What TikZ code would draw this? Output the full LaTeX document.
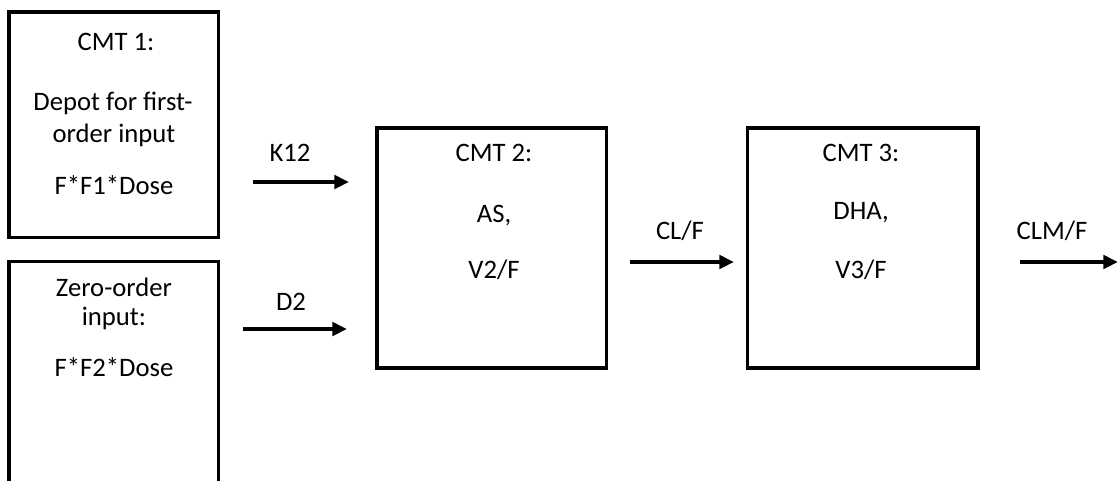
\documentclass[tikz,border=0pt]{standalone}
\usepackage{fontspec}
\setmainfont{Carlito}
\usetikzlibrary{arrows.meta}
\begin{document}
\begin{tikzpicture}[x=0.75pt,y=-0.75pt,
  cmt/.style={draw=black,line width=2.5pt,inner sep=0pt},
  lbl/.style={font=\fontsize{20}{24}\selectfont,inner sep=0pt,anchor=center},
  flow/.style={line width=2.8pt,-{Triangle[length=11pt,width=10pt]}}]
\useasboundingbox (0,0) rectangle (1117,480);
\clip (0,0) rectangle (1117,480);
% boxes
\node[cmt,minimum width=157pt,minimum height=169pt] (c1) at (113.5,124.5) {};
\node[cmt,minimum width=157pt,minimum height=200pt] (c0) at (113.5,395) {};
\node[cmt,minimum width=172pt,minimum height=180pt] (c2) at (491.5,248) {};
\node[cmt,minimum width=173pt,minimum height=180pt] (c3) at (862.5,248) {};
% texts
\node[lbl] (t11) at (116,42) {CMT 1:};
\node[lbl] (t12) at (113,103) {Depot for first-};
\node[lbl] (t13) at (114,135) {order input};
\node[lbl] (t14) at (114,185) {F*F1*Dose};
\node[lbl] (t01) at (114,287) {Zero-order};
\node[lbl] (t02) at (114,318) {input:};
\node[lbl] (t03) at (114,367) {F*F2*Dose};
\node[lbl] (t21) at (494,153) {CMT 2:};
\node[lbl] (t22) at (494,216) {AS,};
\node[lbl] (t23) at (494,270) {V2/F};
\node[lbl] (t31) at (861,153) {CMT 3:};
\node[lbl] (t32) at (861,213) {DHA,};
\node[lbl] (t33) at (861,270) {V3/F};
% arrows
\coordinate (a1s) at (253,182); \coordinate (a1e) at (349,182);
\coordinate (a2s) at (243,329); \coordinate (a2e) at (347,329);
\coordinate (a3s) at (630,262); \coordinate (a3e) at (734,262);
\coordinate (a4s) at (1020,262); \coordinate (a4e) at (1118,262);
\draw[flow] (a1s) -- (a1e);
\draw[flow] (a2s) -- (a2e);
\draw[flow] (a3s) -- (a3e);
\draw[flow] (a4s) -- (a4e);
\node[lbl] (k12) at (290,153) {K12};
\node[lbl] (d2) at (291,302) {D2};
\node[lbl] (clf) at (680,231) {CL/F};
\node[lbl] (clmf) at (1052,231) {CLM/F};
\end{tikzpicture}
\end{document}
